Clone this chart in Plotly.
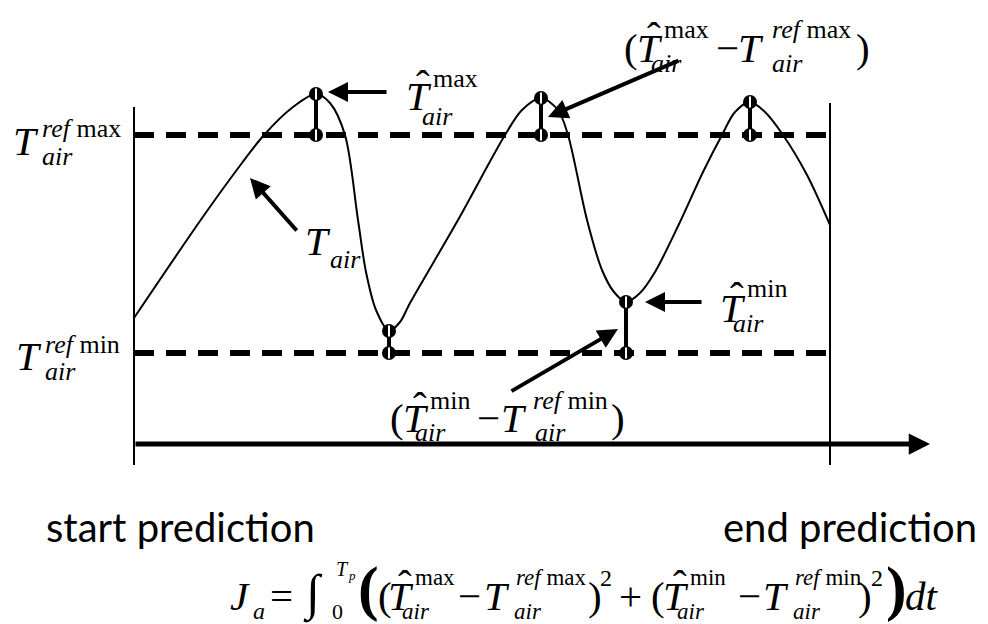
import plotly.graph_objects as go

W, H = 988, 624
SERIF = "Liberation Serif"
SANS = "Lato"

# Air temperature over the prediction horizon (drawing units: time →, temperature ↑)
curve_t = [134, 200, 236, 264, 293, 316, 330, 345, 358, 366, 376, 389, 400, 410,
           458, 505, 522, 541, 558, 568, 587, 602, 614, 626, 640, 655, 680, 703,
           722, 735, 750, 765, 783, 807, 830]
curve_temp = [306, 403, 453, 489, 517, 530, 521, 489, 404, 352, 314, 293, 302, 321,
              404, 489, 514, 526, 514, 489, 404, 354, 332, 322, 331, 352, 402, 452,
              489, 512, 522, 512, 489, 449, 399]

# predicted extremes of the air temperature
peak_t = [316, 541, 750]
peak_temp = [530, 526, 522]
trough_t = [389, 626]
trough_temp = [293, 322]

# reference bounds
ref_max = 489
ref_min = 271

# prediction window
start_t = 134
end_t = 830
time_axis_y = 180

fig = go.Figure()

# window boundaries
fig.add_trace(go.Scatter(
    x=[start_t, start_t, None, end_t, end_t], y=[159, 517, None, 159, 521],
    mode="lines", line=dict(color="black", width=2), hoverinfo="skip"))

# reference max / min (dashed)
for ref in (ref_max, ref_min):
    fig.add_trace(go.Scatter(
        x=[start_t, end_t], y=[ref, ref], mode="lines",
        line=dict(color="black", width=6, dash="20px,12px"), hoverinfo="skip"))

# air temperature curve
fig.add_trace(go.Scatter(
    x=curve_t, y=curve_temp, mode="lines",
    line=dict(color="black", width=2, shape="spline", smoothing=0.9), hoverinfo="skip"))

# deviation bars between extremes and references
bx, by = [], []
for t, v in zip(peak_t, peak_temp):
    bx += [t, t, None]
    by += [v, ref_max, None]
for t, v in zip(trough_t, trough_temp):
    bx += [t, t, None]
    by += [v, ref_min, None]
fig.add_trace(go.Scatter(x=bx, y=by, mode="lines",
                         line=dict(color="black", width=4), hoverinfo="skip"))

dots_x = peak_t + peak_t + trough_t + trough_t
dots_y = peak_temp + [ref_max] * len(peak_t) + trough_temp + [ref_min] * len(trough_t)
fig.add_trace(go.Scatter(x=dots_x, y=dots_y, mode="markers",
                         marker=dict(color="black", size=14), hoverinfo="skip"))
fig.add_trace(go.Scatter(x=dots_x, y=dots_y, mode="markers",
                         marker=dict(symbol="line-ns", size=8,
                                     line=dict(color="white", width=2)),
                         hoverinfo="skip"))

notes = []


def arrow(tip, tail, width=4, size=1.0):
    notes.append(dict(x=tip[0], y=H - tip[1], ax=tail[0], ay=H - tail[1],
                      xref="x", yref="y", axref="x", ayref="y", text="",
                      showarrow=True, arrowhead=2, arrowsize=size,
                      arrowwidth=width, arrowcolor="black"))


def put(text, px, base, size=41, italic=False, anchor="left"):
    if italic:
        text = f"<i>{text}</i>"
    notes.append(dict(x=px, y=H - (base - 0.3375 * size), xref="x", yref="y",
                      text=text, showarrow=False, xanchor=anchor, yanchor="middle",
                      borderpad=0, borderwidth=0,
                      font=dict(family=SERIF, size=size, color="black")))


def tsym(x0, base, sup=None, sup_dx=29, sup_dy=-18, sub="air", sub_dx=29,
         sub_dy=10, hat=False, hat_dx=17, size=41, small=26):
    put("T", x0, base, size, italic=True)
    if hat:
        put("ˆ", x0 + hat_dx, base - 12, size, anchor="center")
    if sup:
        put(sup, x0 + sup_dx, base + sup_dy, small)
    if sub:
        put(sub, x0 + sub_dx, base + sub_dy, small, italic=True)


# time axis
arrow((930, H - time_axis_y), (start_t, H - time_axis_y), width=5, size=0.85)

# pointer arrows
arrow((328, 92), (388, 92))
arrow((548, 117), (680, 60))
arrow((250, 178), (298, 232))
arrow((645, 302), (703, 302))
arrow((618, 329), (510, 392))

# reference labels on the left
tsym(13, 155, sup="<i>ref</i> max")
tsym(16, 370, sup="<i>ref</i> min", sup_dy=-17)

# curve labels
tsym(406, 110, sup="max", sup_dx=27, sup_dy=-23, sub_dx=16, sub_dy=15, hat=True)
tsym(305, 255, sub_dx=25, sub_dy=13)
tsym(720, 322, sup="min", sup_dx=27, sup_dy=-25, sub_dx=13, sub_dy=10, hat=True)

# (T̂min − Tref min)
put("(", 390, 432)
tsym(403, 432, sup="min", sup_dx=27, sup_dy=-23, sub_dx=12, sub_dy=9, hat=True)
put("−", 477, 432)
tsym(501, 432, sup="<i>ref</i> min", sup_dx=32, sup_dy=-23, sub_dx=34, sub_dy=9)
put(")", 611, 432)

# (T̂max − Tref max)
put("(", 624, 62)
tsym(637, 62, sup="max", sup_dx=27, sup_dy=-24, sub_dx=14, sub_dy=10, hat=True)
put("−", 716, 62)
tsym(738, 62, sup="<i>ref</i> max", sup_dx=34, sup_dy=-24, sub_dx=34, sub_dy=10)
put(")", 856, 62)

# window labels
for txt, x, anchor in (("start prediction", 44, "left"), ("end prediction", 979, "right")):
    notes.append(dict(x=x, y=H - 527, xref="x", yref="y", text=txt, showarrow=False,
                      xanchor=anchor, yanchor="middle",
                      font=dict(family=SANS, size=40, color="black")))

# cost function J_a
fb = 610
sm = 23
put("J", 230, fb, italic=True)
put("a", 253, fb + 9, 24, italic=True)
put("=", 270, fb)
put("∫", 303, fb, 50)
put("T", 336, fb - 34, 20, italic=True)
put("p", 348, fb - 30, 13, italic=True)
put("0", 332, fb + 9, 22)
put("<b>(</b>", 358, fb - 1, 62)
put("(", 378, fb)
tsym(388, fb, sup="max", sup_dx=27, sup_dy=-25, sub_dx=14, sub_dy=9, hat=True, small=sm)
put("−", 458, fb)
tsym(484, fb, sup="<i>ref</i> max", sup_dx=32, sup_dy=-25, sub_dx=30, sub_dy=9, small=sm)
put(")", 588, fb)
put("2", 600, fb - 24, 24)
put("+", 619, fb)
put("(", 651, fb)
tsym(663, fb, sup="min", sup_dx=27, sup_dy=-25, sub_dx=14, sub_dy=9, hat=True, small=sm)
put("−", 738, fb)
tsym(763, fb, sup="<i>ref</i> min", sup_dx=32, sup_dy=-25, sub_dx=30, sub_dy=9, small=sm)
put(")", 858, fb)
put("2", 871, fb - 24, 24)
put("<b>)</b>", 886, fb - 1, 62)
put("dt", 905, fb, italic=True)

fig.update_layout(
    width=W, height=H, margin=dict(l=0, r=0, t=0, b=0),
    paper_bgcolor="white", plot_bgcolor="white", showlegend=False,
    xaxis=dict(range=[0, W], visible=False, fixedrange=True),
    yaxis=dict(range=[0, H], visible=False, fixedrange=True),
    annotations=notes,
)

fig.write_html("out.html")
